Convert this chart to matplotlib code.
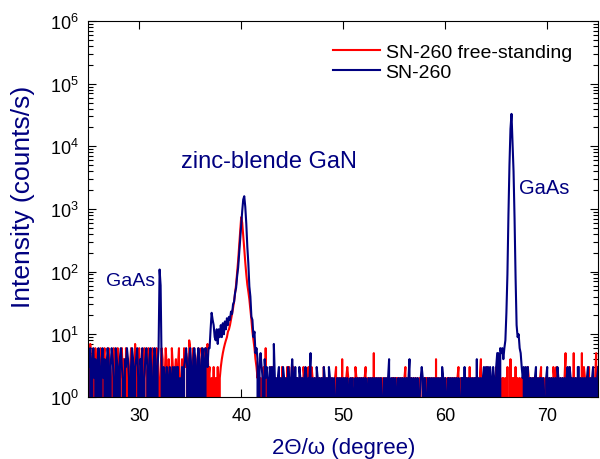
import numpy as np
import matplotlib
matplotlib.use("Agg")
import matplotlib.pyplot as plt
from matplotlib.ticker import NullLocator, LogLocator

plt.rcParams["font.family"] = ["Liberation Sans", "DejaVu Sans"]
plt.rcParams["mathtext.fontset"] = "custom"
plt.rcParams["mathtext.rm"] = "Liberation Sans"

# ── Data (counts/s on a 0.1° grid) ────────────────────────────────────────────
STEP = 0.1

# SN-260 (on GaAs substrate)
BLUE_BG_1 = ("4360462403" "6403624036" "4036420643" "0463204364"
             "2036403462" "0436024630" "462036403")            # 25.0 – 31.8
BLUE_GAAS_LOW = [6, 108, 60]                                   # 31.9 – 32.1
BLUE_BG_2 = ("3030232030" "2303033020" "3034630463" "0464036403"
             "6406436")                                        # 32.2 – 36.8
BLUE_GAN = [6, 12, 22, 17, 14, 9, 8, 12, 7, 12, 9,
            14, 9, 15, 10, 16, 12, 18, 14, 19, 17,
            23, 21, 30, 33, 46, 55, 84, 115, 195, 320,
            590, 930, 1420, 1600, 1080, 580, 250, 135, 58, 40,
            19, 17, 9, 11, 5, 6, 4]                            # 36.9 – 41.6
BLUE_BG_3 = ("0353204232" "0323072202" "3020320203" "2024203020"
             "3202023202" "2502020320" "2020320203" "2020201202"
             "0212020210" "2020120202" "1202020120" "2021202020"
             "2102020240" "2020210202" "0202120240" "2020202012"
             "3202102020" "2120202020" "3202012020" "2020202102"
             "2030202120" "2020402020" "2303230302" "3203550656"
             "46")                                             # 41.7 – 65.8
BLUE_GAAS_HIGH = [8, 22, 90, 800, 5000, 19000, 33000, 12000,
                  4000, 700, 80, 14, 9, 10, 6]                 # 65.9 – 67.3
BLUE_BG_4 = ("5323032302" "2020230202" "2021023020" "2020203202"
             "0202023032" "2020203302" "0202023020" "2302023")  # 67.4 – 75.0

# SN-260 free-standing (substrate removed)
RED_BG_1 = ("3072403640" "2463046203" "6420364036" "4036240643"
            "0364027304" "6240364206" "304620364"
            "2036402630" "4206302403" "6024063540" "8603640246"
            "3064036072")                                      # 25.0 – 36.8
RED_GAN = [3, 0, 2, 0, 3, 0, 2, 0, 3, 0, 2,
           3, 4, 5, 6, 7, 8, 9, 11, 12, 14,
           17, 21, 26, 33, 45, 62, 95, 150, 250, 440,
           740, 600, 380, 230, 140, 90, 62, 48, 36, 25,
           17, 11, 8, 6, 4, 3, 2]                              # 36.9 – 41.6
RED_BG_2 = ("3020230602" "2030320202" "0203202030" "3020302020"
            "2020320203" "0232020202" "2020302020" "2020023020"
            "2040202320" "0202032020" "2020230202" "0205020202"
            "2020202020" "0222022020" "2202302022" "2020202020"
            "0202220220" "2020402020" "2202022202" "0202023020"
            "2022020302" "0202020240" "2020302020" "0203020202"
            "2020300402" "2030202020" "0202320202" "2020202302"
            "0202020203" "2030202020" "2502030205" "0202020503"
            "2020302020" "2503")                               # 41.7 – 75.0

ANNOTATIONS = [(26.7, 73, "GaAs", 14), (34.1, 5800, "zinc-blende GaN", 17),
               (67.25, 2230, "GaAs", 14.5)]

RED = "#FF0000"
NAVY = "#000080"


def digits(s):
    return [int(c) for c in s]


def build(parts):
    """parts: list of (start angle, values) → concatenated x, y arrays"""
    xs, ys = [], []
    for start, vals in parts:
        xs.append(start + STEP * np.arange(len(vals)))
        ys.append(np.asarray(vals, dtype=float))
    return np.concatenate(xs), np.concatenate(ys)


x_blue, y_blue = build([
    (25.0, digits(BLUE_BG_1)),
    (31.9, BLUE_GAAS_LOW),
    (32.2, digits(BLUE_BG_2)),
    (36.9, BLUE_GAN),
    (41.7, digits(BLUE_BG_3)),
    (65.9, BLUE_GAAS_HIGH),
    (67.4, digits(BLUE_BG_4)),
])
x_red, y_red = build([
    (25.0, digits(RED_BG_1)),
    (36.9, RED_GAN),
    (41.7, digits(RED_BG_2)),
])

# ── Figure ────────────────────────────────────────────────────────────────────
fig = plt.figure(figsize=(6, 4.6), dpi=100)
ax = fig.add_axes([0.147, 0.135, 0.850, 0.817])

ax.plot(x_red, y_red, color=RED, lw=1.5, label="SN-260 free-standing")
ax.plot(x_blue, y_blue, color=NAVY, lw=1.5, label="SN-260")

ax.set_yscale("log", nonpositive="clip")
ax.set_xlim(25, 75)
ax.set_ylim(1, 1e6)
ax.set_xticks([30, 40, 50, 60, 70])
ax.xaxis.set_minor_locator(NullLocator())
ax.yaxis.set_major_locator(LogLocator(base=10, numticks=10))
ax.yaxis.set_minor_locator(LogLocator(base=10, subs=np.arange(2, 10), numticks=10))

ax.tick_params(which="both", direction="in", top=True, right=True,
               labelsize=13, width=0.8)
ax.tick_params(which="major", length=6, pad=7)
ax.tick_params(which="minor", length=3.5)
for sp in ax.spines.values():
    sp.set_linewidth(0.8)

ax.set_xlabel("2Θ/ω (degree)", fontsize=16, color=NAVY)
ax.set_ylabel("Intensity (counts/s)", fontsize=19, color=NAVY)
ax.xaxis.set_label_coords(0.5, -0.106)
ax.yaxis.set_label_coords(-0.105, 0.535)

for xa, ya, txt, fs in ANNOTATIONS:
    ax.text(xa, ya, txt, color=NAVY, fontsize=fs, ha="left", va="center")

leg = ax.legend(loc="upper left", bbox_to_anchor=(0.480, 0.940), frameon=False,
                fontsize=14, handlelength=2.4, handletextpad=0.3,
                labelspacing=0.1, borderpad=0, borderaxespad=0)
for line in leg.get_lines():
    line.set_linewidth(1.5)

fig.savefig("out.png", dpi=100)
